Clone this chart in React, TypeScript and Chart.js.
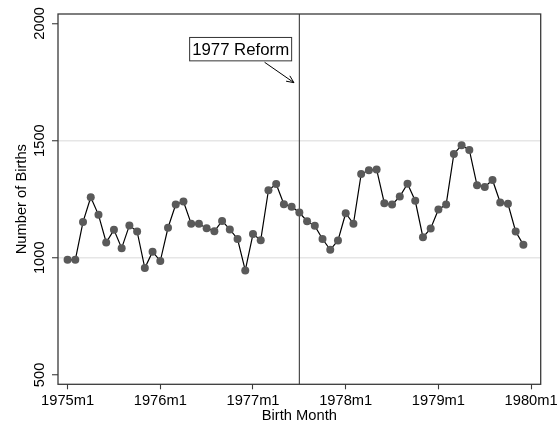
import React, { useEffect, useRef } from 'react';
import { Chart, registerables } from 'chart.js';

Chart.register(...registerables);

// Monthly births, 1975m1 .. 1979m12 (index 0 = 1975m1)
const births: number[] = [
  991, 991, 1153, 1258, 1183, 1065, 1119, 1041, 1138, 1112,
  956, 1026, 986, 1128, 1227, 1240, 1145, 1145, 1126, 1113,
  1157, 1121, 1080, 946, 1101, 1075, 1288, 1315, 1228, 1218,
  1193, 1156, 1136, 1080, 1034, 1074, 1190, 1145, 1357, 1373,
  1377, 1233, 1227, 1261, 1316, 1243, 1087, 1125, 1206, 1227,
  1443, 1480, 1460, 1309, 1302, 1332, 1236, 1230, 1112, 1055,
];
const xTickValues: number[] = [0, 12, 24, 36, 48, 60];
const xTickLabels: string[] = ['1975m1', '1976m1', '1977m1', '1978m1', '1979m1', '1980m1'];
const yTickValues: number[] = [500, 1000, 1500, 2000];
const yGridValues: number[] = [1000, 1500];
const reformMonth = 30; // 1977m7
const annotationText = '1977 Reform';
const xTitle = 'Birth Month';
const yTitle = 'Number of Births';

const FONT = '"Liberation Sans", Arial, Helvetica, sans-serif';
const FRAME = '#3a3a3a';

const overlayPlugin = {
  id: 'overlay',
  beforeDatasetsDraw(chart: any) {
    const { ctx, chartArea: a, scales } = chart;
    const x = scales.x;
    ctx.save();
    ctx.strokeStyle = FRAME;
    ctx.lineWidth = 1.1;
    const px = x.getPixelForValue(reformMonth);
    ctx.beginPath();
    ctx.moveTo(px, a.top);
    ctx.lineTo(px, a.bottom);
    ctx.stroke();
    ctx.restore();
  },
  afterDraw(chart: any) {
    const { ctx, chartArea: a, scales } = chart;
    const x = scales.x;
    const y = scales.y;
    ctx.save();
    // frame
    ctx.strokeStyle = FRAME;
    ctx.lineWidth = 1.3;
    ctx.strokeRect(a.left, a.top, a.right - a.left, a.bottom - a.top);

    // rotated y tick labels
    ctx.fillStyle = '#000';
    ctx.font = `14.7px ${FONT}`;
    ctx.textAlign = 'center';
    ctx.textBaseline = 'alphabetic';
    for (const v of yTickValues) {
      const py = y.getPixelForValue(v);
      ctx.save();
      ctx.translate(43.5, py);
      ctx.rotate(-Math.PI / 2);
      ctx.fillText(String(v), 0, 0);
      ctx.restore();
    }

    // annotation box + text
    ctx.font = `16.8px ${FONT}`;
    const cx = x.getPixelForValue(22.4);
    const cy = y.getPixelForValue(1890);
    const tw = ctx.measureText(annotationText).width;
    const bw = tw + 5;
    const bh = 23.4;
    ctx.fillStyle = '#fff';
    ctx.fillRect(cx - bw / 2, cy - bh / 2, bw, bh);
    ctx.strokeStyle = '#333';
    ctx.lineWidth = 1;
    ctx.strokeRect(cx - bw / 2, cy - bh / 2, bw, bh);
    ctx.fillStyle = '#000';
    ctx.textBaseline = 'middle';
    ctx.fillText(annotationText, cx, cy + 1);

    // arrow
    const x0 = x.getPixelForValue(25.5);
    const y0 = y.getPixelForValue(1834);
    const x1 = x.getPixelForValue(29.3);
    const y1 = y.getPixelForValue(1747);
    ctx.strokeStyle = '#000';
    ctx.lineWidth = 1;
    ctx.beginPath();
    ctx.moveTo(x0, y0);
    ctx.lineTo(x1, y1);
    const ang = Math.atan2(y1 - y0, x1 - x0);
    const L = 8;
    const sp = 0.42;
    ctx.moveTo(x1, y1);
    ctx.lineTo(x1 - L * Math.cos(ang - sp), y1 - L * Math.sin(ang - sp));
    ctx.moveTo(x1, y1);
    ctx.lineTo(x1 - L * Math.cos(ang + sp), y1 - L * Math.sin(ang + sp));
    ctx.stroke();
    ctx.restore();
  },
};

export default function App() {
  const ref = useRef<HTMLCanvasElement | null>(null);
  useEffect(() => {
    if (!ref.current) return;
    const chart = new Chart(ref.current, {
      type: 'line',
      data: {
        datasets: [
          {
            data: births.map((v, i) => ({ x: i, y: v })),
            borderColor: '#000',
            borderWidth: 1.2,
            pointRadius: 4,
            pointBackgroundColor: '#5a5a5a',
            pointBorderWidth: 0,
            pointBorderColor: '#5a5a5a',
            tension: 0,
            fill: false,
          },
        ],
      },
      options: {
        animation: false,
        responsive: false,
        devicePixelRatio: 1,
        layout: { padding: { left: 0, right: 17.3, top: 14, bottom: 0 } },
        plugins: { legend: { display: false }, tooltip: { enabled: false } },
        scales: {
          x: {
            type: 'linear',
            min: -1.24,
            max: 61.24,
            border: { display: false },
            grid: {
              color: 'rgba(0,0,0,0)',
              tickColor: FRAME,
              tickLength: 5,
              tickWidth: 1.1,
            },
            ticks: {
              color: '#000',
              padding: 3,
              maxRotation: 0,
              minRotation: 0,
              font: { family: FONT, size: 14.7 },
              callback: (v: any) => {
                const i = xTickValues.indexOf(Number(v));
                return i >= 0 ? xTickLabels[i] : '';
              },
            },
            afterBuildTicks: (s: any) => {
              s.ticks = xTickValues.map((v) => ({ value: v }));
            },
            afterFit: (s: any) => {
              s.height = 41.7;
              s.paddingLeft = 0;
              s.paddingRight = 0;
            },
            title: {
              display: true,
              text: xTitle,
              color: '#000',
              font: { family: FONT, size: 14.7 },
              padding: { top: 0, bottom: 1.3 },
            },
          },
          y: {
            type: 'linear',
            min: 460,
            max: 2040,
            border: { display: false },
            grid: {
              color: (c: any) =>
                c.tick && yGridValues.includes(c.tick.value) ? '#e6e6e6' : 'rgba(0,0,0,0)',
              lineWidth: 1.5,
              tickColor: FRAME,
              tickLength: 6,
              tickWidth: 1.1,
            },
            ticks: {
              color: 'rgba(0,0,0,0)',
              font: { family: FONT, size: 14.7 },
            },
            afterBuildTicks: (s: any) => {
              s.ticks = yTickValues.map((v) => ({ value: v }));
            },
            afterFit: (s: any) => {
              s.width = 58;
              s.paddingTop = 0;
              s.paddingBottom = 0;
            },
            title: {
              display: true,
              text: yTitle,
              color: '#000',
              font: { family: FONT, size: 14.7 },
              padding: { top: 13, bottom: 0 },
            },
          },
        },
      },
      plugins: [overlayPlugin],
    });
    return () => chart.destroy();
  }, []);
  return (
    <div style={{ position: 'absolute', left: 0, top: 0, width: 558, height: 426, background: '#fff' }}>
      <canvas ref={ref} width={558} height={426} style={{ display: 'block', width: 558, height: 426 }} />
    </div>
  );
}
